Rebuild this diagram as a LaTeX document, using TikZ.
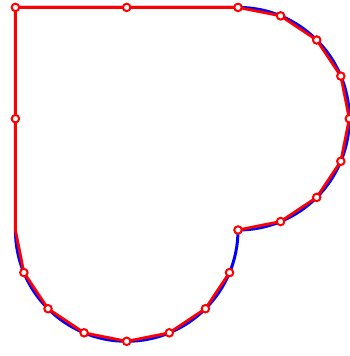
\documentclass[tikz,border=0pt]{standalone}
\usetikzlibrary{positioning}
\definecolor{cblue}{HTML}{0000FF}
\definecolor{cred}{HTML}{FF0000}
\begin{document}
\begin{tikzpicture}[
  x=1pt, y=1pt,
  curve/.style={draw=cblue, line width=3pt},
  poly/.style={draw=cred, line width=2.8pt},
  vtx/.style={circle, draw=cred, fill=white, line width=2pt,
              inner sep=0pt, minimum size=7.5pt},
  ]
\useasboundingbox (0,0) rectangle (350,356);
% ---- centres of the two half circles
\coordinate (rc) at (238,237.3);
\coordinate (bc) at (126.7,126);
% ---- corner and side vertices
\coordinate (tl) at (15.4,348.6);
\coordinate (tm) at (126.7,348.6);
\coordinate (lm) at (15.4,237.3);
% ---- vertices on the half circles
\foreach \i in {0,...,8} {
  \coordinate (r\i) at ([shift={(90-22.5*\i:111.3)}]rc);
  \coordinate (b\i) at ([shift={(-22.5*\i:111.3)}]bc);
}
% ---- exact outline
\draw[curve] (tl) -- (r0) arc[start angle=90, end angle=-90, radius=111.3]
  arc[start angle=0, end angle=-180, radius=111.3] -- cycle;
% ---- polygon through the vertices
\draw[poly] (b1) \foreach \i in {2,...,8} { -- (b\i) } -- (lm) -- (tl) -- (tm)
  \foreach \i in {0,...,8} { -- (r\i) };
% ---- vertex marks
\foreach \p in {tl,tm,lm,r0,r1,r2,r3,r4,r5,r6,r7,r8,b1,b2,b3,b4,b5,b6,b7}
  \node[vtx] (m-\p) at (\p) {};
\end{tikzpicture}
\end{document}
